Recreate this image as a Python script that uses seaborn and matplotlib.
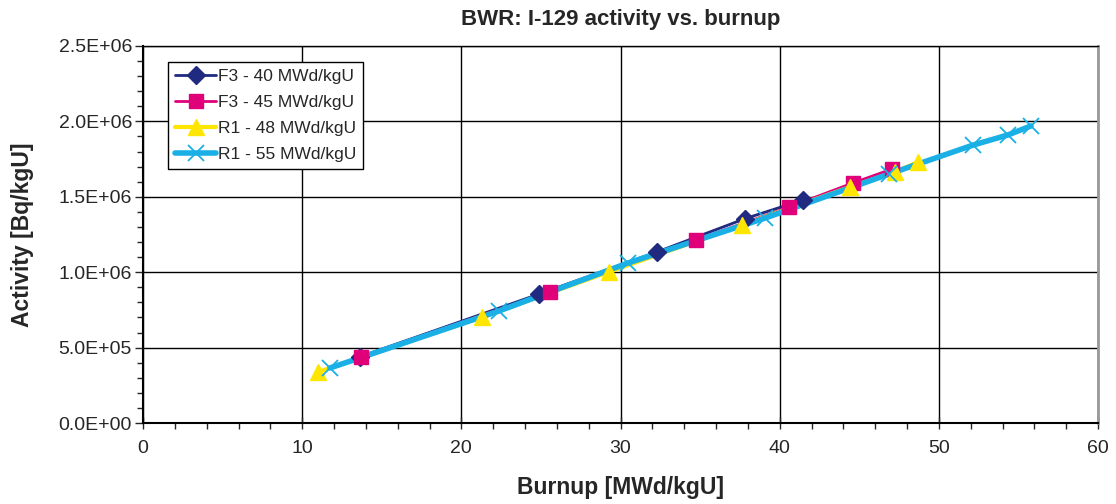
import matplotlib
matplotlib.use("Agg")
import matplotlib.pyplot as plt
import matplotlib.ticker as mticker
from matplotlib import font_manager
from matplotlib.lines import Line2D
import seaborn as sns
import pandas as pd

# ---- data ----
series_names = ["F3 - 40 MWd/kgU", "F3 - 45 MWd/kgU", "R1 - 48 MWd/kgU", "R1 - 55 MWd/kgU"]

f3_40_burnup = [13.65, 24.88, 32.29, 37.82, 41.47]
f3_40_activity = [0.440e6, 0.855e6, 1.134e6, 1.355e6, 1.479e6]

f3_45_burnup = [13.70, 25.57, 34.74, 40.59, 44.61, 47.06]
f3_45_activity = [0.438e6, 0.869e6, 1.214e6, 1.432e6, 1.592e6, 1.684e6]

r1_48_burnup = [10.99, 21.30, 29.30, 37.63, 44.42, 47.24, 48.69]
r1_48_activity = [0.338e6, 0.703e6, 1.003e6, 1.313e6, 1.565e6, 1.664e6, 1.731e6]

r1_55_burnup = [11.75, 22.37, 30.47, 39.08, 46.87, 52.15, 54.34, 55.79]
r1_55_activity = [0.365e6, 0.743e6, 1.061e6, 1.359e6, 1.651e6, 1.843e6, 1.910e6, 1.970e6]

x_ticks = [0, 10, 20, 30, 40, 50, 60]
x_tick_labels = ["0", "10", "20", "30", "40", "50", "60"]
y_ticks = [0, 0.5e6, 1.0e6, 1.5e6, 2.0e6, 2.5e6]

title = "BWR: I-129 activity vs. burnup"
x_label = "Burnup [MWd/kgU]"
y_label = "Activity [Bq/kgU]"

# ---- style ----
sns.set_style("white")
avail = {f.name for f in font_manager.fontManager.ttflist}
base_font = "Liberation Sans" if "Liberation Sans" in avail else "DejaVu Sans"
narrow_font = "Liberation Sans Narrow" if "Liberation Sans Narrow" in avail else base_font
plt.rcParams["font.family"] = [base_font, "DejaVu Sans"]

fig = plt.figure(figsize=(11.16, 5.04), dpi=100)
ax = fig.add_axes([143 / 1116, 1 - 423 / 504, (1098 - 143) / 1116, (423 - 46) / 504])

colors = ["#1F2A80", "#E0007A", "#FFE600", "#1AB0E6"]
markers = ["D", "s", "^", "x"]
msizes = [9, 10.5, 11.5, 11]
lwidths = [2.0, 2.0, 3.0, 4.0]
mews = [1, 1, 1, 1.3]
data = [
    (f3_40_burnup, f3_40_activity),
    (f3_45_burnup, f3_45_activity),
    (r1_48_burnup, r1_48_activity),
    (r1_55_burnup, r1_55_activity),
]

# lines first (all series), then markers on top, like the original
for (xs, ys), c, lw in zip(data, colors, lwidths):
    df = pd.DataFrame({"x": xs, "y": ys})
    sns.lineplot(data=df, x="x", y="y", ax=ax, sort=False, color=c,
                 linewidth=lw, zorder=3, legend=False)
for (xs, ys), c, m, ms, mew in zip(data, colors, markers, msizes, mews):
    df = pd.DataFrame({"x": xs, "y": ys})
    sns.lineplot(data=df, x="x", y="y", ax=ax, sort=False, color=c,
                 linestyle="", marker=m, markersize=ms, markeredgecolor=c,
                 markeredgewidth=mew, zorder=4, legend=False)

ax.set_xlim(0, 60)
ax.set_ylim(0, 2.5e6)
ax.set_xticks(x_ticks)
ax.set_xticklabels(x_tick_labels, family=[narrow_font, "DejaVu Sans"], fontsize=14)
ax.set_yticks(y_ticks)
ax.xaxis.set_minor_locator(mticker.MultipleLocator(2))
ax.yaxis.set_minor_locator(mticker.MultipleLocator(1e5))
ax.yaxis.set_major_formatter(mticker.FuncFormatter(lambda v, p: f"{v:.1E}"))

ax.grid(True, which="major", color="black", linewidth=1.0)
ax.set_axisbelow(True)
for s in ["left", "bottom"]:
    ax.spines[s].set_color("black")
    ax.spines[s].set_linewidth(1.5)
ax.spines["top"].set_color("black")
ax.spines["top"].set_linewidth(1.0)
ax.spines["right"].set_color("#999999")
ax.spines["right"].set_linewidth(2.0)

ax.tick_params(axis="x", which="major", direction="inout", length=8, width=1, pad=8)
ax.tick_params(axis="x", which="minor", direction="out", length=4, width=1)
ax.tick_params(axis="y", which="major", direction="out", length=6, width=1, labelsize=14, pad=2)
ax.tick_params(axis="y", which="minor", direction="out", length=4, width=1)
ax.tick_params(bottom=True, left=True, which="both")

ax.set_xlabel(x_label, fontsize=16.5, fontweight="bold", labelpad=14)
ax.set_ylabel(y_label, fontsize=16.5, fontweight="bold", labelpad=18)
ax.set_title(title, fontsize=16, fontweight="bold", pad=15)

handles = [Line2D([0], [0], color=c, lw=lw, marker=m, markersize=ms,
                  markeredgecolor=c, markeredgewidth=mew)
           for c, lw, m, ms, mew in zip(colors, lwidths, markers, msizes, mews)]
leg = ax.legend(handles, series_names, loc="upper left", bbox_to_anchor=(0.026, 0.958),
                fontsize=12.5, frameon=True, fancybox=False, shadow=False,
                handlelength=2.4, handletextpad=0.1, borderpad=0.4,
                labelspacing=0.62, borderaxespad=0)
leg.get_frame().set_edgecolor("black")
leg.get_frame().set_linewidth(1.0)
leg.get_frame().set_alpha(1)

fig.savefig("out.png", dpi=100)
